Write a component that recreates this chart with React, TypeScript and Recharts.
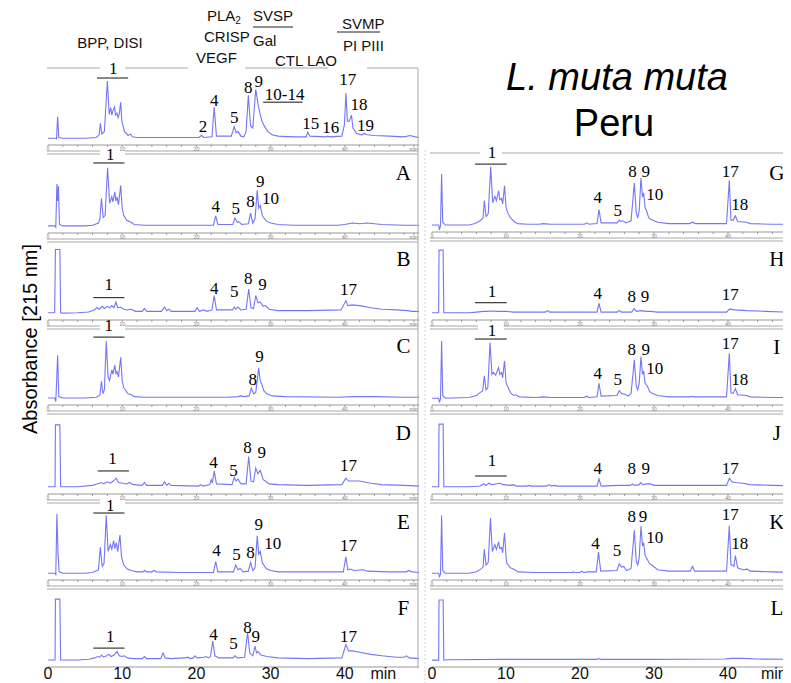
import React from "react";
import { LineChart, Line, XAxis, YAxis, ReferenceDot, ReferenceLine } from "recharts";

type Pt = [number, number];
type Lbl = [string, number, number];
type Bar = [number, number, number];

// chromatogram traces: [time in min, absorbance (0-100, baseline ~10)]
const traceRef: Pt[] = [[0,10],[1.0,10],[1.15,9],[1.3,42],[1.45,11],[2,10],[5,10],[6.5,11],[6.9,15],[7.05,32],[7.25,16],[7.6,20],[8.0,94],[8.25,45],[8.45,55],[8.6,44],[8.8,52],[8.97,56],[9.1,44],[9.3,47],[9.45,40],[9.6,45],[9.8,63],[9.95,35],[10.3,20],[10.8,14],[11.1,16],[11.4,12],[12,11],[20.3,11],[20.7,14],[21,11],[22.1,12],[22.4,56],[22.7,13],[24.7,13],[25.1,27],[25.35,18],[25.6,20],[26,13],[26.4,12],[26.7,20],[27.0,73],[27.3,28],[27.6,25],[28.0,82],[28.3,60],[28.5,50],[28.8,36],[29.2,27],[29.6,20],[30.2,15],[31,13],[33,12],[34.8,12],[35.0,19],[35.3,13],[37.5,12],[37.7,13],[38,12],[39.6,13],[39.95,30],[40.15,76],[40.35,35],[40.6,35],[40.9,44],[41.1,25],[41.6,17],[42.3,15],[42.6,17],[43,15],[44,14],[46,13],[48,12],[48.8,14],[49.5,12],[50,11]];
const traceA: Pt[] = [[0,10],[0.9,10],[1.05,8],[1.2,69],[1.3,45],[1.4,66],[1.55,12],[2,10],[5,10],[6,11],[6.8,14],[7.0,20],[7.2,49],[7.45,22],[7.7,25],[8.03,92],[8.3,42],[8.6,51],[8.75,44],[9.0,58],[9.15,45],[9.3,51],[9.5,40],[9.8,67],[10.0,35],[10.2,25],[10.6,18],[11.2,15],[11.6,12],[13,11],[22.3,11],[22.6,24],[22.9,12],[24.9,12],[25.2,21],[25.5,15],[25.7,16],[26.1,12],[27.0,13],[27.3,28],[27.6,14],[27.9,20],[28.2,60],[28.4,35],[28.6,39],[28.9,24],[29.4,17],[30,14],[31,12],[33,11],[39,11],[40,12],[41,14],[42,13],[43,14],[45,12],[48,11],[50,11]];
const traceB: Pt[] = [[0,10],[0.9,10],[1.0,98],[1.6,98],[1.7,10],[2,9.5],[4,10],[5.5,11],[6.2,14],[6.6,17],[6.9,15],[7.3,19],[7.6,16],[8.0,19],[8.3,17],[8.6,20],[8.9,17],[9.15,25],[9.4,17],[9.8,18],[10.2,15],[10.6,14],[11.2,15],[11.8,12],[12.7,12],[13.0,16],[13.3,12],[15.3,12],[15.7,18],[16.0,13],[16.3,15],[16.6,12],[19.8,12],[20.1,17],[20.4,12],[21.0,14],[21.4,12],[22.1,14],[22.4,34],[22.7,14],[24.9,14],[25.1,18],[25.3,15],[25.6,18],[26.0,14],[26.7,15],[27.05,43],[27.35,17],[27.7,16],[28.0,34],[28.3,24],[28.6,25],[29.0,19],[29.3,20],[29.8,15],[31,13],[35,13],[39.5,14],[40.15,27],[40.4,20],[41,21],[42,20],[43.5,17],[45,15],[47,14],[48.5,13],[49,12],[50,12]];
const traceC: Pt[] = [[0,10],[0.9,10],[1.05,5],[1.3,71],[1.45,12],[2,10],[5,10],[6.5,11],[7.0,14],[7.2,34],[7.4,16],[7.6,22],[7.85,91],[8.1,40],[8.3,35],[8.6,50],[8.75,44],[9.0,57],[9.15,45],[9.3,48],[9.5,40],[9.8,68],[10.0,35],[10.2,25],[10.8,16],[11.2,15],[11.6,12],[13,11],[24,11],[25.6,12],[26,13],[26.4,12],[27.1,13],[27.4,24],[27.7,16],[28.0,18],[28.4,53],[28.6,34],[28.8,30],[29.1,20],[29.5,16],[30.2,13],[32,12],[39,11],[41,12],[44,12],[48,11],[50,11]];
const traceD: Pt[] = [[0,10],[0.95,10],[1.0,96],[1.6,96],[1.7,10],[2,10],[4,10],[6,12],[6.6,14],[7.2,16],[7.5,14],[8.0,17],[8.4,15],[8.8,18],[9.2,22],[9.5,16],[10.1,15],[10.6,14],[11.0,16],[11.5,13],[12.7,12],[13.0,16],[13.3,12],[15.4,12],[15.7,17],[16.0,12],[16.3,15],[16.6,12],[20.3,11],[20.6,13],[20.9,11],[21.8,13],[22.0,20],[22.15,15],[22.4,32],[22.7,14],[24.8,13],[25.1,23],[25.35,18],[25.6,21],[26.0,14],[26.7,14],[27.05,52],[27.35,18],[27.7,17],[28.0,36],[28.3,28],[28.6,33],[29.0,20],[29.3,18],[29.8,14],[31,13],[35,12],[39.6,13],[40.15,22],[40.5,18],[41,18],[42,18],[43.5,15],[45,13],[48,12],[50,11]];
const traceE: Pt[] = [[0,10],[0.9,10],[1.05,8],[1.2,97],[1.35,40],[1.5,12],[2,10],[5,10],[6,11],[6.8,15],[7.05,48],[7.3,20],[7.55,24],[7.85,95],[8.1,42],[8.4,52],[8.6,45],[8.85,58],[9.0,46],[9.2,55],[9.4,42],[9.7,66],[9.9,35],[10.2,22],[10.7,16],[11.2,14],[12,12],[12.8,12],[13.0,14],[13.3,12],[14.0,12],[14.3,14],[14.6,12],[18,11],[22.3,11],[22.6,27],[22.9,12],[25.0,12],[25.3,22],[25.6,15],[25.9,17],[26.3,12],[27.0,13],[27.3,26],[27.6,14],[27.9,18],[28.2,65],[28.4,38],[28.6,42],[28.9,25],[29.4,17],[30,14],[31,12],[39.8,12],[40.15,34],[40.4,15],[40.8,16],[41.2,14],[42.5,15],[43,13],[46,12],[48.3,12],[48.6,14],[49,12],[50,11]];
const traceF: Pt[] = [[0,10],[0.95,10],[1.0,97],[1.6,97],[1.7,10],[2,10],[4,10],[5.5,11],[6.3,13],[6.7,15],[7.0,14],[7.2,17],[7.5,14],[7.9,16],[8.2,18],[8.5,15],[8.9,17],[9.3,22],[9.6,16],[10.0,15],[10.3,16],[10.7,13],[11.5,12],[12.7,12],[13.0,15],[13.3,12],[15.2,12],[15.5,20],[15.8,13],[16.5,12],[18.5,13],[18.8,14],[19.2,12],[19.6,13],[19.8,16],[20.1,13],[21.0,14],[21.3,15],[21.6,13],[21.9,15],[22.2,37],[22.5,16],[23,13],[24.9,13],[25.2,16],[25.5,13],[26.5,14],[26.9,49],[27.2,20],[27.6,16],[27.9,30],[28.1,20],[28.3,22],[28.7,17],[29.5,15],[31,13],[35,12],[39.6,13],[40.15,32],[40.5,23],[41,23],[42,21],[43.5,18],[45,16],[47,14],[48,14],[48.3,16],[48.7,13],[50,12]];
const traceG: Pt[] = [[0,10],[0.9,10],[1.0,3],[1.15,9],[1.3,83],[1.45,14],[1.8,10],[5,10],[5.8,12],[6.5,16],[6.9,20],[7.07,45],[7.3,22],[7.6,26],[7.93,93],[8.2,42],[8.5,51],[8.7,45],[9.0,59],[9.15,46],[9.4,48],[9.55,40],[9.8,66],[10.0,36],[10.2,28],[10.6,20],[11.2,14],[11.6,12],[13,11],[14.5,11],[15,12],[16,11],[20.6,11],[20.9,13],[21.2,11],[22.3,12],[22.57,32],[22.85,13],[25.0,13],[25.3,17],[25.5,15],[25.8,16],[26.2,13],[26.9,16],[27.34,70],[27.6,28],[27.8,20],[28.0,30],[28.24,77],[28.45,50],[28.6,56],[28.8,35],[29.0,30],[29.3,20],[29.6,18],[30.5,14],[32,12],[34.8,12],[35.2,14],[35.6,12],[39.8,12],[40.18,74],[40.4,17],[40.7,17],[41.0,23],[41.3,15],[42.5,14],[43,12],[46,11],[50,11]];
const traceH: Pt[] = [[0,10],[0.9,10],[0.95,97],[1.5,97],[1.6,10],[2,10],[5,10],[6,11],[7,12],[7.5,12],[8.0,12.5],[9,12],[10,12],[11,11],[15.3,11],[15.6,13],[15.9,11],[22.3,11],[22.57,23],[22.85,11],[25.0,11],[25.3,13],[25.6,11],[27.0,11],[27.3,16],[27.6,12],[28.3,13],[29,12],[29.5,12],[30.5,11],[39.8,11],[40.2,15],[41,14],[42.5,13],[45,12],[48,11],[50,11]];
const traceI: Pt[] = [[0,10],[0.9,10],[1.0,4],[1.15,9],[1.3,94],[1.45,14],[1.8,10],[5,11],[6.0,14],[6.6,19],[6.85,21],[7.07,43],[7.3,22],[7.55,26],[7.84,92],[8.1,45],[8.3,48],[8.6,44],[9.0,55],[9.15,45],[9.4,48],[9.55,40],[9.8,65],[10.0,34],[10.1,30],[10.6,18],[11.0,14],[11.3,15],[11.8,12],[14,11],[15,12],[16,11],[20.6,11],[20.9,13],[21.2,11],[22.3,12],[22.57,32],[22.85,13],[25.0,14],[25.3,21],[25.6,17],[26,16],[26.5,13],[26.9,17],[27.34,66],[27.6,28],[27.8,22],[28.0,32],[28.24,71],[28.45,45],[28.6,50],[28.8,32],[29.1,28],[29.4,20],[29.8,17],[30.5,14],[32,12],[34.8,12],[35.2,12.5],[35.6,12],[39.8,12],[40.18,76],[40.4,18],[40.7,17],[41.0,24],[41.3,15],[42.5,14],[43,12],[46,11],[50,11]];
const traceJ: Pt[] = [[0,10],[0.9,10],[0.95,97],[1.5,97],[1.6,10],[2,10],[5,10],[6.5,11],[7.0,14],[7.3,12],[7.7,15],[8.1,13],[8.6,14],[9.2,15],[9.6,13],[10.5,12],[11.0,13],[11.4,11],[12.8,11],[13.1,12],[13.4,11],[15.5,11],[15.8,13],[16.1,11],[16.5,12],[17,11],[22.3,11],[22.57,21],[22.85,11],[25.2,12],[26.8,12],[27.1,14],[27.4,12],[28.0,13],[28.2,16],[28.5,13],[29.0,14],[29.5,14],[30,12],[39.8,12],[40.2,22],[40.5,17],[41,16],[42,15],[43,13],[46,12],[50,11]];
const traceK: Pt[] = [[0,10],[0.9,10],[1.0,4],[1.15,9],[1.3,95],[1.45,14],[1.8,10],[5,10],[6.0,12],[6.6,16],[6.9,19],[7.07,45],[7.3,22],[7.6,26],[7.9,91],[8.15,42],[8.5,52],[8.7,45],[9.0,56],[9.15,46],[9.4,48],[9.55,40],[9.8,69],[10.0,35],[10.1,25],[10.6,18],[11.2,15],[11.6,12],[14,11],[19.0,11],[19.1,12],[19.3,11],[20.0,11],[20.2,13],[20.5,11],[21,12],[22.2,12],[22.5,41],[22.8,13],[25.0,14],[25.3,24],[25.6,19],[25.9,20],[26.3,14],[26.9,17],[27.34,73],[27.6,28],[27.8,22],[28.0,33],[28.24,79],[28.45,50],[28.6,55],[28.8,36],[29.1,30],[29.4,24],[29.7,22],[30.5,15],[32,13],[34.9,13],[35.2,20],[35.5,13],[39.8,13],[40.18,80],[40.4,22],[40.6,22],[40.8,20],[41.0,36],[41.3,18],[42.0,15],[42.6,16],[43,13],[46,12],[50,11]];
const traceL: Pt[] = [[0,10],[0.9,10],[0.95,97],[1.5,97],[1.6,10],[2,10.5],[10,11],[20,11],[20.2,11.5],[20.5,11],[22.3,11],[22.5,12.5],[22.7,11],[30,11],[39.5,11.5],[40.5,12.5],[42,12.5],[44,11.5],[50,11]];

// peak labels: [text, time, absorbance]
const labelsRef: Lbl[] = [["1",8.8,113],["2",20.9,26.5],["4",22.4,66],["5",25.1,41],["8",27.0,84],["9",28.4,93],["10-14",31.9,75],["15",35.4,31],["16",38.1,26],["17",40.4,97],["18",41.9,59],["19",42.8,29]];
const labelsA: Lbl[] = [["1",8.4,110],["4",22.6,38],["5",25.3,34],["8",27.3,45],["9",28.6,73],["10",30.0,49]];
const labelsB: Lbl[] = [["1",8.2,49],["4",22.4,44],["5",25.1,39],["8",27.0,58],["9",28.9,49],["17",40.5,42]];
const labelsC: Lbl[] = [["1",8.2,114],["8",27.6,36],["9",28.5,69]];
const labelsD: Lbl[] = [["1",8.7,49],["4",22.3,44],["5",25.0,33],["8",26.9,64],["9",28.8,57],["17",40.5,39]];
const labelsE: Lbl[] = [["1",8.4,110],["4",22.7,44],["5",25.4,37],["8",27.3,41],["9",28.4,81],["10",30.3,54],["17",40.5,51]];
const labelsF: Lbl[] = [["1",8.4,43],["4",22.3,46],["5",25.0,34],["8",26.9,57],["9",28.0,43],["17",40.5,43]];
const labelsG: Lbl[] = [["1",8.1,113],["4",22.4,49],["5",25.1,31],["8",27.1,86],["9",28.9,86],["10",30.1,53],["17",40.3,86],["18",41.6,39]];
const labelsH: Lbl[] = [["1",8.1,39],["4",22.4,37],["8",27.0,32],["9",28.8,32],["17",40.3,35]];
const labelsI: Lbl[] = [["1",8.1,110],["4",22.4,47],["5",25.1,37],["8",27.0,82],["9",28.9,82],["10",30.1,53],["17",40.3,91],["18",41.6,38]];
const labelsJ: Lbl[] = [["1",8.1,47],["4",22.4,36],["8",27.0,36],["9",28.9,36],["17",40.3,36]];
const labelsK: Lbl[] = [["4",22.1,53],["5",25.0,43],["8",27.0,93],["9",28.5,93],["10",30.1,63],["17",40.3,96],["18",41.6,53]];
const labelsL: Lbl[] = [];

// fraction bars: [from, to, absorbance]
const barsRef: Bar[] = [[6.6,10.8,98.5],[29,34.3,63]];
const barsA: Bar[] = [[6.1,10.3,98.6]];
const barsB: Bar[] = [[6.1,10.3,31]];
const barsC: Bar[] = [[6.1,10.3,97]];
const barsD: Bar[] = [[6.7,10.9,32]];
const barsE: Bar[] = [[6.1,10.3,98.5]];
const barsF: Bar[] = [[6.1,10.3,27]];
const barsG: Bar[] = [[5.8,10.1,97]];
const barsH: Bar[] = [[5.8,10.1,24]];
const barsI: Bar[] = [[5.8,10.1,97]];
const barsJ: Bar[] = [[5.8,10.1,25]];

const minorTicks = [0,2,4,6,8,10,12,14,16,18,20,22,24,26,28,30,32,34,36,38,40,42,44,46,48];
const majorLabels = ["0", "10", "20", "30", "40"];

const OFF = 8;
const LINE = "#7575f7";
const SERIF = "'Liberation Serif', 'Times New Roman', serif";
const SANS = "'Liberation Sans', Arial, sans-serif";

type PanelProps = {
  trace: Pt[];
  labels: Lbl[];
  bars: Bar[];
  letter: string;
  letterAt: number;
  x0: number;
  pxPerMin: number;
  top: number;
  axis: number;
  big?: boolean;
  minAt: number | null;
};

function Panel({ trace, labels, bars, letter, letterAt, x0, pxPerMin, top, axis, big, minAt }: PanelProps) {
  const data = trace.map(([t, v]) => ({ t, v }));
  const plotH = axis - top;
  const mt = 22;
  const xh = big ? 24 : 10;
  const plotW = 50 * pxPerMin;
  const base = big ? [0, 10, 20, 30, 40] : minorTicks;
  const ticks = minAt !== null ? [...base, minAt] : base;
  const fmt = (t: number) => {
    if (t === minAt) return "min";
    if (t % 10 === 0) return big ? majorLabels[t / 10] : String(t);
    return "";
  };
  return (
    <div style={{ position: "absolute", left: x0 - 5 - OFF, top: top - mt - OFF }}>
      <LineChart width={plotW + 10} height={plotH + mt + xh} data={data} margin={{ top: mt, right: 5, left: 5, bottom: 0 }}>
        <XAxis
          type="number"
          dataKey="t"
          domain={[0, 50]}
          ticks={ticks}
          interval={0}
          tickFormatter={fmt}
          tickSize={big ? 0 : 2}
          tickMargin={big ? 1 : 0}
          stroke="#999"
          tick={{ fontSize: big ? 16 : 5, fill: big ? "#111" : "#777", fontFamily: SANS }}
          height={xh}
          allowDataOverflow
        />
        <YAxis type="number" domain={[0, 100]} ticks={[0, 10, 20, 30, 40, 50, 60, 70, 80, 90, 100]} width={0} tick={false} tickSize={2} stroke="#999" allowDataOverflow />
        <Line type="linear" dataKey="v" stroke={LINE} strokeWidth={1.1} dot={false} isAnimationActive={false} />
        {bars.map(([a, b, v], i) => (
          <ReferenceLine key={"b" + i} segment={[{ x: a, y: v }, { x: b, y: v }]} stroke="#111" strokeWidth={1} ifOverflow="visible" />
        ))}
        {labels.map(([txt, t, v], i) => (
          <ReferenceDot
            key={"l" + i}
            x={t}
            y={v}
            r={1}
            ifOverflow="visible"
            shape={(p: any) => (
              <text x={p.cx} y={p.cy} textAnchor="middle" dominantBaseline="central" fontSize={17} fontFamily={SERIF} fill="#000">
                {txt}
              </text>
            )}
          />
        ))}
        {letter && (
          <ReferenceDot
            x={letterAt}
            y={85}
            r={1}
            ifOverflow="visible"
            shape={(p: any) => (
              <text x={p.cx} y={p.cy} textAnchor="middle" dominantBaseline="central" fontSize={21} fontFamily={SERIF} fill="#000">
                {letter}
              </text>
            )}
          />
        )}
      </LineChart>
    </div>
  );
}

const leftPanels = [
  { trace: traceRef, labels: labelsRef, bars: barsRef, letter: "", top: 77, axis: 145 },
  { trace: traceA, labels: labelsA, bars: barsA, letter: "A", top: 162, axis: 233 },
  { trace: traceB, labels: labelsB, bars: barsB, letter: "B", top: 248, axis: 320 },
  { trace: traceC, labels: labelsC, bars: barsC, letter: "C", top: 335, axis: 405 },
  { trace: traceD, labels: labelsD, bars: barsD, letter: "D", top: 422, axis: 494 },
  { trace: traceE, labels: labelsE, bars: barsE, letter: "E", top: 512, axis: 580 },
  { trace: traceF, labels: labelsF, bars: barsF, letter: "F", top: 597, axis: 667 },
];
const rightPanels = [
  { trace: traceG, labels: labelsG, bars: barsG, letter: "G", top: 162, axis: 232 },
  { trace: traceH, labels: labelsH, bars: barsH, letter: "H", top: 248, axis: 320 },
  { trace: traceI, labels: labelsI, bars: barsI, letter: "I", top: 337, axis: 405 },
  { trace: traceJ, labels: labelsJ, bars: barsJ, letter: "J", top: 422, axis: 494 },
  { trace: traceK, labels: labelsK, bars: [] as Bar[], letter: "K", top: 512, axis: 580 },
  { trace: traceL, labels: labelsL, bars: [] as Bar[], letter: "L", top: 598, axis: 667 },
];

function Frame() {
  const gray = "#a8a8a8";
  const lines: number[][] = [
    [47, 68, 100, 68], [125, 68, 188, 68], [245, 68, 328, 68], [367, 68, 418, 68],
    [418, 68, 418, 668],
    [430, 153, 480, 153], [502, 153, 791, 153],
  ];
  // double separators under each stacked panel
  const sepLeft: [number, boolean][] = [[145, true], [233, false], [320, true], [405, false], [494, true], [580, false]];
  sepLeft.forEach(([a, gap]) => {
    [a + 6, a + 9].forEach((y) => {
      if (gap) {
        lines.push([47, y, 100, y], [125, y, 418, y]);
      } else {
        lines.push([47, y, 418, y]);
      }
    });
  });
  const sepRight: [number, boolean][] = [[232, false], [320, true], [405, false], [494, false], [580, false]];
  sepRight.forEach(([a, gap]) => {
    [a + 6, a + 9].forEach((y) => {
      if (gap) {
        lines.push([430, y, 478, y], [504, y, 791, y]);
      } else {
        lines.push([430, y, 791, y]);
      }
    });
  });
  return (
    <svg width={783} height={675} style={{ position: "absolute", left: 0, top: 0, pointerEvents: "none" }}>
      <g transform={`translate(${-OFF},${-OFF})`}>
        {lines.map((l, i) => (
          <line key={i} x1={l[0]} y1={l[1]} x2={l[2]} y2={l[3]} stroke={gray} strokeWidth={1} />
        ))}
        <line x1={425} y1={150} x2={425} y2={683} stroke="#d0d0d0" strokeWidth={1} strokeDasharray="2 2" />
        <line x1={253} y1={27} x2={293} y2={27} stroke="#222" strokeWidth={1} />
        <line x1={337} y1={32} x2={380} y2={32} stroke="#222" strokeWidth={1} />
        <g fontFamily={SANS} fontSize={15} fill="#111" dominantBaseline="central">
          <text x={110} y={42} textAnchor="middle">BPP, DISI</text>
          <text x={207} y={15}>PLA<tspan fontSize={10} dy={5}>2</tspan></text>
          <text x={204} y={36}>CRISP</text>
          <text x={196} y={57}>VEGF</text>
          <text x={253} y={15}>SVSP</text>
          <text x={253} y={40}>Gal</text>
          <text x={275} y={60}>CTL  LAO</text>
          <text x={342} y={23}>SVMP</text>
          <text x={343} y={45}>PI  PIII</text>
        </g>
        <text x={617} y={77} textAnchor="middle" dominantBaseline="central" fontFamily={SANS} fontStyle="italic" fontSize={38} fill="#000">L. muta muta</text>
        <text x={614} y={123} textAnchor="middle" dominantBaseline="central" fontFamily={SANS} fontSize={38} fill="#000">Peru</text>
        <text x={30} y={339} textAnchor="middle" dominantBaseline="central" fontFamily={SANS} fontSize={20} fill="#000" transform="rotate(-90 30 339)">Absorbance [215 nm]</text>
      </g>
    </svg>
  );
}

export default function App() {
  const lastL = leftPanels.length - 1;
  const lastR = rightPanels.length - 1;
  return (
    <div style={{ position: "relative", width: 783, height: 675, overflow: "hidden", background: "#fff" }}>
      {leftPanels.map((p, i) => (
        <Panel key={"L" + i} {...p} letterAt={47.9} x0={47.5} pxPerMin={7.42} big={i === lastL} minAt={i === lastL ? 45.2 : 49.3} />
      ))}
      {rightPanels.map((p, i) => (
        <Panel key={"R" + i} {...p} letterAt={46.6} x0={432} pxPerMin={7.4} big={i === lastR} minAt={i === lastR ? 46.2 : null} />
      ))}
      <Frame />
    </div>
  );
}
